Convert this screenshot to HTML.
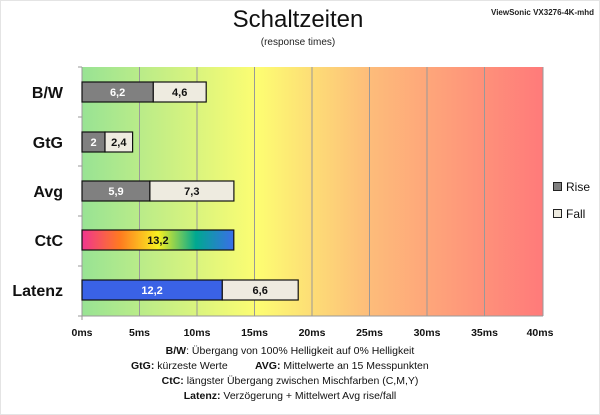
<!DOCTYPE html>
<html><head><meta charset="utf-8"><style>
html,body{margin:0;padding:0;background:#fff;}
svg{display:block;font-family:"Liberation Sans",sans-serif;}
</style></head><body>
<svg width="600" height="415" viewBox="0 0 600 415" xmlns="http://www.w3.org/2000/svg">
<defs>
<linearGradient id="bg" x1="0" x2="1" y1="0" y2="0">
<stop offset="0" stop-color="#98e394"/>
<stop offset="0.38" stop-color="#fdfd72"/>
<stop offset="0.62" stop-color="#fdbd7a"/>
<stop offset="1" stop-color="#ff7a7a"/>
</linearGradient>
<linearGradient id="ctc" x1="0" x2="1" y1="0" y2="0">
<stop offset="0" stop-color="#f0358f"/>
<stop offset="0.25" stop-color="#ff7a20"/>
<stop offset="0.5" stop-color="#f8f020"/>
<stop offset="0.75" stop-color="#00a890"/>
<stop offset="1" stop-color="#3a6ee8"/>
</linearGradient>
</defs>
<rect x="0.5" y="0.5" width="599" height="414" fill="#fff" stroke="#e4e4e4"/>
<text x="298" y="27" font-size="24" text-anchor="middle" fill="#111">Schaltzeiten</text>
<text x="298" y="45" font-size="10" text-anchor="middle" fill="#222">(response times)</text>
<text x="594" y="15" font-size="8" font-weight="bold" text-anchor="end" fill="#222">ViewSonic VX3276-4K-mhd</text>
<rect x="82" y="67" width="461" height="249" fill="url(#bg)"/>
<g stroke="#999" stroke-width="1">
<line x1="139.5" y1="67" x2="139.5" y2="316"/><line x1="197" y1="67" x2="197" y2="316"/>
<line x1="254.5" y1="67" x2="254.5" y2="316"/><line x1="312" y1="67" x2="312" y2="316"/>
<line x1="369.5" y1="67" x2="369.5" y2="316"/><line x1="427" y1="67" x2="427" y2="316"/>
<line x1="484.5" y1="67" x2="484.5" y2="316"/><line x1="543" y1="67" x2="543" y2="316"/>
<line x1="82" y1="67" x2="82" y2="320"/>
<line x1="78" y1="316" x2="543" y2="316"/>
<line x1="78" y1="67" x2="82" y2="67"/><line x1="78" y1="117" x2="82" y2="117"/><line x1="78" y1="166" x2="82" y2="166"/><line x1="78" y1="216" x2="82" y2="216"/><line x1="78" y1="266" x2="82" y2="266"/>
</g>
<g stroke="#111" stroke-width="1.2">
<rect x="82" y="82" width="71.3" height="20" fill="#808080"/><rect x="153.3" y="82" width="52.9" height="20" fill="#eeebe0"/>
<rect x="82" y="132" width="23" height="20" fill="#808080"/><rect x="105" y="132" width="27.6" height="20" fill="#eeebe0"/>
<rect x="82" y="181" width="67.9" height="20" fill="#808080"/><rect x="149.9" y="181" width="84" height="20" fill="#eeebe0"/>
<rect x="82" y="230" width="151.8" height="20" fill="url(#ctc)"/>
<rect x="82" y="280" width="140.3" height="20" fill="#3a62e6"/><rect x="222.3" y="280" width="75.9" height="20" fill="#eeebe0"/>
</g>
<g font-size="11" font-weight="bold" text-anchor="middle">
<text x="117.6" y="96" fill="#fff">6,2</text><text x="179.7" y="96" fill="#111">4,6</text>
<text x="93.5" y="146" fill="#fff">2</text><text x="118.8" y="146" fill="#111">2,4</text>
<text x="116" y="195" fill="#fff">5,9</text><text x="191.8" y="195" fill="#111">7,3</text>
<text x="157.9" y="244" fill="#111">13,2</text>
<text x="152.1" y="294" fill="#fff">12,2</text><text x="260.2" y="294" fill="#111">6,6</text>
</g>
<g font-size="16" font-weight="bold" text-anchor="end" fill="#111">
<text x="63" y="98">B/W</text><text x="63" y="148">GtG</text><text x="63" y="197">Avg</text><text x="63" y="246">CtC</text><text x="63" y="296">Latenz</text>
</g>
<rect x="553.5" y="182.5" width="8" height="8" fill="#808080" stroke="#222"/>
<text x="566" y="191" font-size="12" fill="#111">Rise</text>
<rect x="553.5" y="209.5" width="8" height="8" fill="#eeebe0" stroke="#222"/>
<text x="566" y="218" font-size="12" fill="#111">Fall</text>
<g font-size="10.5" font-weight="bold" text-anchor="middle" fill="#111">
<text x="82" y="336">0ms</text><text x="139.5" y="336">5ms</text><text x="197" y="336">10ms</text><text x="254.5" y="336">15ms</text><text x="312" y="336">20ms</text><text x="369.5" y="336">25ms</text><text x="427" y="336">30ms</text><text x="484.5" y="336">35ms</text><text x="540" y="336">40ms</text>
</g>
<g font-size="10.5" text-anchor="middle" fill="#111">
<text x="290" y="354"><tspan font-weight="bold">B/W</tspan>:  Übergang von 100% Helligkeit auf 0% Helligkeit</text>
<text x="131" y="369" text-anchor="start"><tspan font-weight="bold">GtG:</tspan> kürzeste Werte</text>
<text x="255" y="369" text-anchor="start"><tspan font-weight="bold">AVG:</tspan> Mittelwerte an 15 Messpunkten</text>
<text x="290" y="384"><tspan font-weight="bold">CtC:</tspan> längster Übergang zwischen Mischfarben (C,M,Y)</text>
<text x="290" y="399"><tspan font-weight="bold">Latenz:</tspan> Verzögerung + Mittelwert Avg rise/fall</text>
</g>
</svg>
</body></html>
